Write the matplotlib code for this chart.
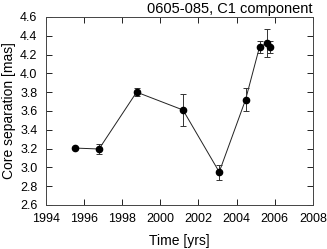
import numpy as np
import matplotlib
matplotlib.use("Agg")
import matplotlib.pyplot as plt

plt.rcParams['font.family'] = ['Liberation Sans', 'DejaVu Sans']

# epochs and core separation of C1
years = [1995.53, 1996.79, 1998.76, 2001.19, 2003.09, 2004.47, 2005.20, 2005.58, 2005.74]
sep = [3.205, 3.195, 3.80, 3.61, 2.95, 3.72, 4.28, 4.32, 4.28]
err = [0.01, 0.05, 0.04, 0.17, 0.08, 0.12, 0.06, 0.15, 0.065]

xticks = np.arange(1994, 2009, 2)
yticks = np.arange(2.6, 4.61, 0.2)

fig = plt.figure(figsize=(3.27, 2.49), dpi=100)
ax = fig.add_axes([0.140, 0.177, 0.817, 0.755])

ax.plot(years, sep, '-', color='#222222', lw=0.7, zorder=2)
ax.errorbar(years, sep, yerr=err, fmt='none', ecolor='#333333', elinewidth=0.7,
            capsize=2.5, capthick=0.7, zorder=3)
ax.plot(years, sep, 'o', color='black', ms=4.5, zorder=4)

ax.set_xlim(1994, 2008)
ax.set_ylim(2.6, 4.6)
ax.set_xticks(xticks)
ax.set_yticks(yticks)
ax.set_yticklabels(['%.1f' % v for v in yticks])
ax.tick_params(direction='in', top=True, right=True, length=4, width=0.7,
               labelsize=9, pad=6, colors='#222222', labelcolor='black')
for s in ax.spines.values():
    s.set_linewidth(0.7)
    s.set_color('#444444')

ax.set_xlabel('Time [yrs]', fontsize=10, labelpad=6)
ax.set_ylabel('Core separation [mas]', fontsize=10, labelpad=3)
fig.text(0.957, 0.992, '0605-085, C1 component', ha='right', va='top', fontsize=10.5)

fig.savefig('out.png', dpi=100)
